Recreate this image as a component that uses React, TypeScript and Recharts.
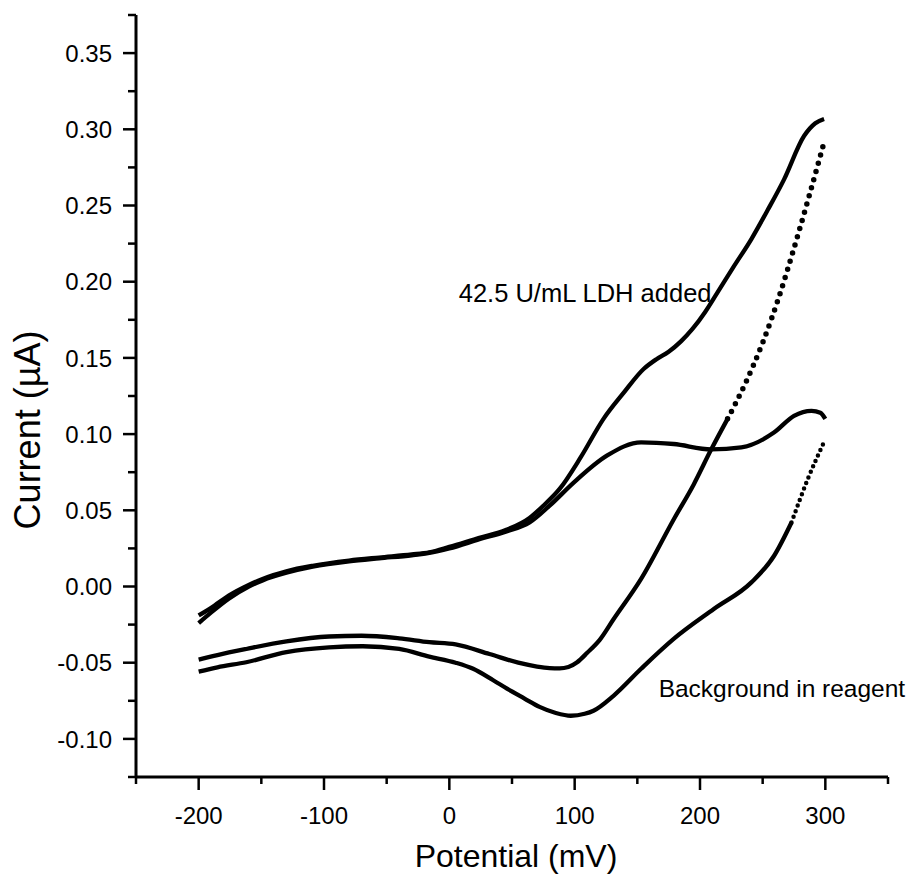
import React from 'react';
import { LineChart, Line, XAxis, YAxis, ReferenceDot } from 'recharts';

// Potential (mV) / current (µA) readings, each branch ordered by potential
const ldhForwardX = [-200, -190, -176, -160, -149, -130, -109, -80, -56, -30, -16, 0, 24, 45, 64, 75, 88, 105, 123, 139, 155, 165, 175, 185, 194, 204, 214, 227, 241, 254, 267, 283, 292, 299];
const ldhForwardY = [-0.019, -0.014, -0.006, 0.001, 0.005, 0.010, 0.0136, 0.017, 0.019, 0.021, 0.0224, 0.026, 0.032, 0.037, 0.045, 0.053, 0.064, 0.085, 0.110, 0.127, 0.1427, 0.149, 0.154, 0.161, 0.169, 0.180, 0.193, 0.210, 0.228, 0.247, 0.267, 0.2956, 0.304, 0.3068];

const bgForwardX = [-200, -190, -176, -160, -149, -130, -109, -80, -56, -30, -16, 0, 24, 45, 64, 80, 99, 126, 153, 179, 209, 233, 259, 275, 289, 296, 300];
const bgForwardY = [-0.024, -0.017, -0.008, 0.0, 0.004, 0.009, 0.013, 0.0165, 0.0185, 0.0205, 0.022, 0.025, 0.031, 0.036, 0.042, 0.053, 0.068, 0.086, 0.0946, 0.0935, 0.090, 0.0913, 0.101, 0.112, 0.1153, 0.114, 0.110];

const ldhReverseX = [-200, -185, -162, -130, -96, -70, -40, -16, 5, 32, 55, 70, 80, 88, 95, 102, 110, 120, 131, 153, 179, 195, 209, 222, 236, 250, 263, 275, 287, 299];
const ldhReverseY = [-0.048, -0.045, -0.041, -0.036, -0.0328, -0.0323, -0.034, -0.0365, -0.038, -0.0443, -0.050, -0.0525, -0.0535, -0.0537, -0.0528, -0.0497, -0.0435, -0.035, -0.0215, 0.005, 0.044, 0.067, 0.090, 0.110, 0.133, 0.160, 0.190, 0.222, 0.256, 0.2915];
const ldhDottedFrom = 222;

const bgReverseX = [-200, -185, -162, -130, -96, -69, -40, -16, 5, 19, 35, 46, 60, 72, 85, 97, 108, 115, 131, 153, 179, 211, 241, 259, 273, 286, 299.5];
const bgReverseY = [-0.0559, -0.053, -0.0497, -0.043, -0.0399, -0.0392, -0.041, -0.046, -0.050, -0.054, -0.0615, -0.067, -0.0735, -0.079, -0.083, -0.0848, -0.0835, -0.0815, -0.0717, -0.054, -0.0344, -0.0148, 0.0027, 0.020, 0.042, 0.0705, 0.0957];
const bgDottedFrom = 273;

const xMajorTicks = [-200, -100, 0, 100, 200, 300];
const xAllTicks = [-250, -200, -150, -100, -50, 0, 50, 100, 150, 200, 250, 300, 350];
const yMajorTicks = [-0.10, -0.05, 0.0, 0.05, 0.10, 0.15, 0.20, 0.25, 0.30, 0.35];
const yAllTicks = [-0.125, -0.1, -0.075, -0.05, -0.025, 0, 0.025, 0.05, 0.075, 0.1, 0.125, 0.15, 0.175, 0.2, 0.225, 0.25, 0.275, 0.3, 0.325, 0.35, 0.375];

const xTitle = 'Potential (mV)';
const yTitle = 'Current (µA)';
const ldhLabel = '42.5 U/mL LDH added';
const ldhLabelPos = { x: 7.5, y: 0.1867 };
const bgLabel = 'Background in reagent';
const bgLabelPos = { x: 167, y: -0.0725 };

const FONT = '"Liberation Sans", Arial, Helvetica, sans-serif';

const pts = (xs: number[], ys: number[]) => xs.map((x, i) => ({ x, y: ys[i] }));
const upTo = (xs: number[], ys: number[], lim: number) => pts(xs, ys).filter((p) => p.x <= lim);
const from = (xs: number[], ys: number[], lim: number) => pts(xs, ys).filter((p) => p.x >= lim);

const isMember = (arr: number[], v: number) => arr.some((a) => Math.abs(a - v) < 1e-9);

const YTick = (props: any) => {
  const { x, y, payload } = props;
  const v = payload.value;
  const major = isMember(yMajorTicks, v);
  return (
    <g>
      <line x1={x} x2={x - (major ? 13 : 8)} y1={y} y2={y} stroke="#000" strokeWidth={2.5} />
      {major && (
        <text x={x - 24} y={y} dy="0.36em" textAnchor="end" fontFamily={FONT} fontSize={24} fill="#000">
          {v.toFixed(2)}
        </text>
      )}
    </g>
  );
};

const XTick = (props: any) => {
  const { x, y, payload } = props;
  const v = payload.value;
  const major = isMember(xMajorTicks, v);
  return (
    <g>
      <line x1={x} x2={x} y1={y} y2={y + (major ? 13 : 7)} stroke="#000" strokeWidth={2.5} />
      {major && (
        <text x={x} y={y + 38} dy="0.36em" textAnchor="middle" fontFamily={FONT} fontSize={24} fill="#000">
          {String(v)}
        </text>
      )}
    </g>
  );
};

const XTitle = (props: any) => {
  const vb = props.viewBox;
  return (
    <text x={vb.x + vb.width / 2 + 4} y={vb.y + 90} textAnchor="middle" fontFamily={FONT} fontSize={32} fill="#000">
      {xTitle}
    </text>
  );
};

const YTitle = (props: any) => {
  const vb = props.viewBox;
  const cx = vb.x + 9.5;
  const cy = vb.y + vb.height / 2 + 34;
  return (
    <text x={cx} y={cy} transform={`rotate(-90 ${cx} ${cy})`} dy="0.36em" textAnchor="middle" fontFamily={FONT} fontSize={36} fill="#000">
      {yTitle}
    </text>
  );
};

const annot = (text: string, size: number) => (props: any) => {
  const vb = props.viewBox;
  return (
    <text x={vb.x} y={vb.y} textAnchor="start" fontFamily={FONT} fontSize={size} fill="#000">
      {text}
    </text>
  );
};

const solid = { stroke: '#000', strokeWidth: 4.3, dot: false, activeDot: false, isAnimationActive: false, type: 'monotone' as const };

export default function App() {
  return (
    <LineChart width={908} height={868} margin={{ top: 7, right: 28, bottom: 19, left: 10 }}>
      <XAxis
        dataKey="x"
        type="number"
        domain={[-250, 350]}
        ticks={xAllTicks}
        interval={0}
        tickSize={0}
        tickMargin={0}
        tick={<XTick />}
        axisLine={{ stroke: '#000', strokeWidth: 3 }}
        tickLine={false}
        height={80}
        allowDataOverflow
        label={<XTitle />}
      />
      <YAxis
        dataKey="y"
        type="number"
        domain={[-0.125, 0.375]}
        ticks={yAllTicks}
        interval={0}
        tickSize={0}
        tickMargin={0}
        tick={<YTick />}
        axisLine={{ stroke: '#000', strokeWidth: 3 }}
        tickLine={false}
        width={118}
        allowDataOverflow
        label={<YTitle />}
      />
      <Line data={pts(ldhForwardX, ldhForwardY)} dataKey="y" {...solid} />
      <Line data={pts(bgForwardX, bgForwardY)} dataKey="y" {...solid} />
      <Line data={upTo(ldhReverseX, ldhReverseY, ldhDottedFrom)} dataKey="y" {...solid} />
      <Line
        data={from(ldhReverseX, ldhReverseY, ldhDottedFrom)}
        dataKey="y"
        {...solid}
        strokeWidth={5.5}
        strokeDasharray="0 8.5"
        strokeLinecap="round"
      />
      <Line data={upTo(bgReverseX, bgReverseY, bgDottedFrom)} dataKey="y" {...solid} />
      <Line
        data={from(bgReverseX, bgReverseY, bgDottedFrom)}
        dataKey="y"
        {...solid}
        strokeWidth={4.5}
        strokeDasharray="0 6"
        strokeLinecap="round"
      />
      <ReferenceDot x={ldhLabelPos.x} y={ldhLabelPos.y} r={0} fill="none" stroke="none" label={annot(ldhLabel, 25.5)} />
      <ReferenceDot x={bgLabelPos.x} y={bgLabelPos.y} r={0} fill="none" stroke="none" label={annot(bgLabel, 24.5)} />
    </LineChart>
  );
}
